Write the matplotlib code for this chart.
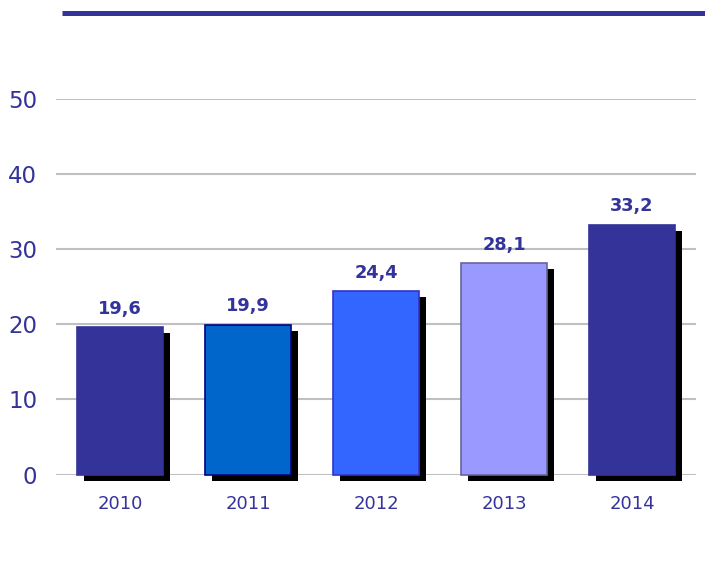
import matplotlib
matplotlib.use("Agg")
import matplotlib.pyplot as plt
from matplotlib.transforms import ScaledTranslation
from matplotlib.lines import Line2D

years = ["2010", "2011", "2012", "2013", "2014"]
values = [19.6, 19.9, 24.4, 28.1, 33.2]
labels = ["19,6", "19,9", "24,4", "28,1", "33,2"]
face_colors = ["#333399", "#0066CC", "#3366FF", "#9999FF", "#333399"]
edge_colors = ["#333399", "#000080", "#3333CC", "#666699", "#333399"]
yticks = [0, 10, 20, 30, 40, 50]

W, H = 705, 577
fig = plt.figure(figsize=(W / 100, H / 100), dpi=100)
plt.rcParams['font.family'] = ['DejaVu Sans']
text_color = "#333399"

ax = fig.add_axes([56 / W, (H - 474.5) / H, 640 / W, 375.5 / H])
ax.set_xlim(-0.5, len(years) - 0.5)
ax.set_ylim(0, 50)

x = list(range(len(years)))
shadow_tr = ax.transData + ScaledTranslation(7 / 100, -6 / 100, fig.dpi_scale_trans)
ax.bar(x, values, width=0.67, color="black", transform=shadow_tr, zorder=2,
       clip_on=False, linewidth=0)
ax.bar(x, values, width=0.67, color=face_colors, edgecolor=edge_colors,
       linewidth=1.2, zorder=3, clip_on=False)

for xi, v, lab in zip(x, values, labels):
    ax.annotate(lab, (xi, v), xytext=(0, 7), textcoords="offset points",
                ha="center", va="bottom", fontsize=12.8, fontweight="bold",
                color=text_color, zorder=4)

ax.set_yticks(yticks)
ax.set_xticks(x)
ax.set_xticklabels(years)
ax.yaxis.grid(True, color="#C0C0C0", linewidth=1.5, zorder=0)
ax.set_axisbelow(True)
for s in ax.spines.values():
    s.set_visible(False)
ax.tick_params(axis="y", length=0, pad=13.5, labelsize=16.5, labelcolor=text_color)
ax.tick_params(axis="x", length=0, pad=15, labelsize=13, labelcolor=text_color)

fig.add_artist(Line2D([62 / W, 1.0], [(H - 13.2) / H, (H - 13.2) / H],
                      color="#333399", linewidth=3.6, transform=fig.transFigure,
                      solid_capstyle="butt"))

fig.savefig("out.png", dpi=100)
